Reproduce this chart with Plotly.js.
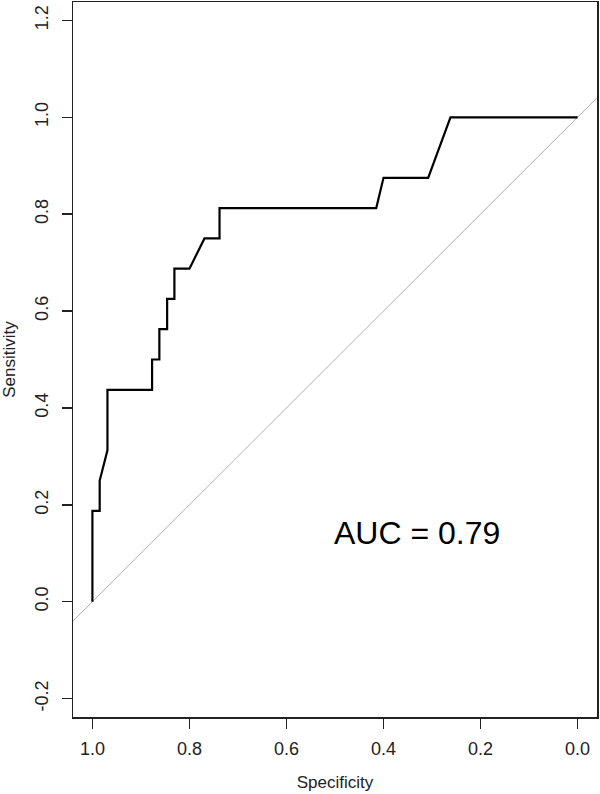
<!DOCTYPE html>
<html>
<head>
<meta charset="utf-8">
<script src="https://cdn.plot.ly/plotly-3.0.1.min.js"></script>
<style>html,body{margin:0;padding:0;background:#fff;}#chart{width:600px;height:794px;}</style>
</head>
<body>
<div id="chart"></div>
<script>
// ROC curve points (specificity, sensitivity)
const specificity = [1.000, 1.000, 0.985, 0.985, 0.969, 0.969, 0.877, 0.877, 0.862, 0.862, 0.846, 0.846, 0.831, 0.831, 0.800, 0.769, 0.738, 0.738, 0.415, 0.400, 0.308, 0.262, 0.000];
const sensitivity = [0.000, 0.1875, 0.1875, 0.250, 0.3125, 0.4375, 0.4375, 0.500, 0.500, 0.5625, 0.5625, 0.625, 0.625, 0.6875, 0.6875, 0.750, 0.750, 0.8125, 0.8125, 0.875, 0.875, 1.000, 1.000];
// chance line (sensitivity = 1 - specificity) over the axis range
const chanceSpec = [1.04, -0.04];
const chanceSens = chanceSpec.map(s => 1 - s);
const aucLabel = "AUC = 0.79";
const aucPos = [0.332, 0.142];
const xTicks = [1.0, 0.8, 0.6, 0.4, 0.2, 0.0];
const yTicks = [-0.2, 0.0, 0.2, 0.4, 0.6, 0.8, 1.0, 1.2];

const font = "Liberation Sans, Arial, sans-serif";
const ink = "#222";

const traces = [
  {x: chanceSpec, y: chanceSens, mode: "lines", line: {color: "#b0b0b0", width: 1}, hoverinfo: "skip", showlegend: false},
  {x: specificity, y: sensitivity, mode: "lines", line: {color: "#000", width: 2.2}, showlegend: false}
];

const axisCommon = {
  showgrid: false, zeroline: false, showline: true, mirror: true,
  linecolor: ink, linewidth: 1.5,
  ticks: "outside", ticklen: 10, tickwidth: 1.5, tickcolor: ink,
  tickfont: {family: font, size: 18, color: ink}
};

const layout = {
  width: 600, height: 794,
  margin: {l: 73, r: 3, t: 2, b: 77},
  paper_bgcolor: "#fff", plot_bgcolor: "#fff",
  xaxis: Object.assign({}, axisCommon, {
    range: [1.04, -0.04], tickvals: xTicks, ticktext: xTicks.map(v => v.toFixed(1)),
    ticklabelstandoff: 5,
    title: {text: "Specificity", font: {family: font, size: 17, color: ink}, standoff: 18}
  }),
  yaxis: Object.assign({}, axisCommon, {
    range: [-0.238, 1.238], tickvals: yTicks, ticktext: yTicks.map(v => v.toFixed(1)),
    tickangle: -90, ticklabelstandoff: 6,
    title: {text: "Sensitivity", font: {family: font, size: 17, color: ink}, standoff: 16}
  }),
  annotations: [{
    x: aucPos[0], y: aucPos[1], xref: "x", yref: "y", text: aucLabel, showarrow: false,
    font: {family: font, size: 32, color: "#000"}, xanchor: "center", yanchor: "middle"
  }]
};

Plotly.newPlot("chart", traces, layout, {displayModeBar: false, staticPlot: true});
</script>
</body>
</html>
